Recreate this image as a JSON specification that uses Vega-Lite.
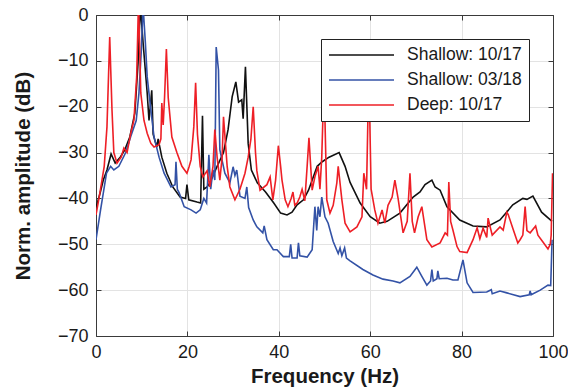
{
  "$schema": "https://vega.github.io/schema/vega-lite/v6.json",
  "width": 457,
  "height": 321,
  "autosize": "none",
  "padding": {"left": 96, "top": 15, "right": 15, "bottom": 56},
  "config": {
    "view": {"stroke": null},
    "font": "Liberation Sans",
    "axis": {
      "domainColor": "#3a3a3a",
      "tickColor": "#3a3a3a",
      "domainWidth": 1,
      "tickWidth": 1,
      "labelFont": "Liberation Sans",
      "labelFontSize": 18,
      "labelColor": "#1a1a1a",
      "labelFlush": false,
      "labelOverlap": false,
      "titleFont": "Liberation Sans",
      "titleFontSize": 20.5,
      "titleFontWeight": "bold",
      "titleColor": "#1a1a1a",
      "gridColor": "#e3e3e3",
      "gridWidth": 1
    }
  },
  "data": {"values": [
    {"s":"Shallow: 10/17","f":0,"v":-42},{"s":"Shallow: 10/17","f":0.9,"v":-38.8},{"s":"Shallow: 10/17","f":1.6,"v":-36},{"s":"Shallow: 10/17","f":2.4,"v":-33.8},{"s":"Shallow: 10/17","f":3.3,"v":-30.3},{"s":"Shallow: 10/17","f":4.2,"v":-32.3},{"s":"Shallow: 10/17","f":5.3,"v":-31},{"s":"Shallow: 10/17","f":6.3,"v":-29.4},{"s":"Shallow: 10/17","f":7.4,"v":-26.6},{"s":"Shallow: 10/17","f":8.5,"v":-21.4},{"s":"Shallow: 10/17","f":9.2,"v":-10.5},{"s":"Shallow: 10/17","f":9.7,"v":2},{"s":"Shallow: 10/17","f":10.3,"v":-6},{"s":"Shallow: 10/17","f":11.2,"v":-17},{"s":"Shallow: 10/17","f":11.6,"v":-23},{"s":"Shallow: 10/17","f":12.2,"v":-16.4},{"s":"Shallow: 10/17","f":12.5,"v":-26},{"s":"Shallow: 10/17","f":13.3,"v":-28.8},{"s":"Shallow: 10/17","f":13.6,"v":-27},{"s":"Shallow: 10/17","f":14.4,"v":-31},{"s":"Shallow: 10/17","f":15.5,"v":-34.5},{"s":"Shallow: 10/17","f":16.8,"v":-37.5},{"s":"Shallow: 10/17","f":18.4,"v":-39.7},{"s":"Shallow: 10/17","f":19.6,"v":-40},{"s":"Shallow: 10/17","f":19.9,"v":-37},{"s":"Shallow: 10/17","f":20.3,"v":-40.3},{"s":"Shallow: 10/17","f":22.1,"v":-40.8},{"s":"Shallow: 10/17","f":22.9,"v":-41},{"s":"Shallow: 10/17","f":23.3,"v":-22},{"s":"Shallow: 10/17","f":23.6,"v":-38},{"s":"Shallow: 10/17","f":24.3,"v":-37.5},{"s":"Shallow: 10/17","f":24.9,"v":-36.6},{"s":"Shallow: 10/17","f":26.5,"v":-33},{"s":"Shallow: 10/17","f":27.9,"v":-30},{"s":"Shallow: 10/17","f":28.9,"v":-25},{"s":"Shallow: 10/17","f":29.8,"v":-17.8},{"s":"Shallow: 10/17","f":30.6,"v":-14.6},{"s":"Shallow: 10/17","f":31.2,"v":-19},{"s":"Shallow: 10/17","f":31.9,"v":-18.5},{"s":"Shallow: 10/17","f":32.2,"v":-22.6},{"s":"Shallow: 10/17","f":32.7,"v":-11.3},{"s":"Shallow: 10/17","f":33.3,"v":-28},{"s":"Shallow: 10/17","f":34,"v":-33.8},{"s":"Shallow: 10/17","f":35.3,"v":-36.6},{"s":"Shallow: 10/17","f":37.1,"v":-38.6},{"s":"Shallow: 10/17","f":38.9,"v":-41},{"s":"Shallow: 10/17","f":40.4,"v":-43.2},{"s":"Shallow: 10/17","f":41.8,"v":-43.6},{"s":"Shallow: 10/17","f":42.9,"v":-43},{"s":"Shallow: 10/17","f":44,"v":-41.4},{"s":"Shallow: 10/17","f":45.4,"v":-40.3},{"s":"Shallow: 10/17","f":46.5,"v":-38.2},{"s":"Shallow: 10/17","f":48.4,"v":-33},{"s":"Shallow: 10/17","f":49.5,"v":-32},{"s":"Shallow: 10/17","f":51,"v":-31},{"s":"Shallow: 10/17","f":53.2,"v":-30},{"s":"Shallow: 10/17","f":54.5,"v":-33},{"s":"Shallow: 10/17","f":55.6,"v":-36.5},{"s":"Shallow: 10/17","f":57.8,"v":-41},{"s":"Shallow: 10/17","f":60,"v":-44},{"s":"Shallow: 10/17","f":62.1,"v":-45.4},{"s":"Shallow: 10/17","f":63.7,"v":-45},{"s":"Shallow: 10/17","f":66.5,"v":-43.2},{"s":"Shallow: 10/17","f":69.4,"v":-39.7},{"s":"Shallow: 10/17","f":70.9,"v":-38.6},{"s":"Shallow: 10/17","f":72,"v":-37},{"s":"Shallow: 10/17","f":73.5,"v":-36},{"s":"Shallow: 10/17","f":74.2,"v":-37.5},{"s":"Shallow: 10/17","f":75.3,"v":-38.2},{"s":"Shallow: 10/17","f":76.8,"v":-41.8},{"s":"Shallow: 10/17","f":79.6,"v":-44.7},{"s":"Shallow: 10/17","f":82.5,"v":-46},{"s":"Shallow: 10/17","f":85.5,"v":-46.2},{"s":"Shallow: 10/17","f":88.4,"v":-44.7},{"s":"Shallow: 10/17","f":91.2,"v":-41.4},{"s":"Shallow: 10/17","f":93.4,"v":-40},{"s":"Shallow: 10/17","f":94.3,"v":-40.2},{"s":"Shallow: 10/17","f":95.6,"v":-39.5},{"s":"Shallow: 10/17","f":97.5,"v":-43},{"s":"Shallow: 10/17","f":99.8,"v":-45},

    {"s":"Shallow: 03/18","f":0,"v":-49},{"s":"Shallow: 03/18","f":1,"v":-42.5},{"s":"Shallow: 03/18","f":2.3,"v":-34.5},{"s":"Shallow: 03/18","f":3.2,"v":-33},{"s":"Shallow: 03/18","f":3.9,"v":-33.8},{"s":"Shallow: 03/18","f":5,"v":-33},{"s":"Shallow: 03/18","f":6.5,"v":-30},{"s":"Shallow: 03/18","f":7.6,"v":-26.5},{"s":"Shallow: 03/18","f":8.8,"v":-23},{"s":"Shallow: 03/18","f":9.4,"v":-17},{"s":"Shallow: 03/18","f":9.9,"v":-8},{"s":"Shallow: 03/18","f":10.3,"v":2},{"s":"Shallow: 03/18","f":10.8,"v":-6},{"s":"Shallow: 03/18","f":11.2,"v":-13.5},{"s":"Shallow: 03/18","f":12,"v":-20.7},{"s":"Shallow: 03/18","f":12.7,"v":-26.6},{"s":"Shallow: 03/18","f":13.8,"v":-31},{"s":"Shallow: 03/18","f":14.9,"v":-34.5},{"s":"Shallow: 03/18","f":16.4,"v":-37.5},{"s":"Shallow: 03/18","f":17.3,"v":-37},{"s":"Shallow: 03/18","f":17.5,"v":-32},{"s":"Shallow: 03/18","f":17.8,"v":-38},{"s":"Shallow: 03/18","f":18.2,"v":-38.8},{"s":"Shallow: 03/18","f":19.3,"v":-41.8},{"s":"Shallow: 03/18","f":20.8,"v":-42.5},{"s":"Shallow: 03/18","f":21.9,"v":-43.2},{"s":"Shallow: 03/18","f":22.8,"v":-42.5},{"s":"Shallow: 03/18","f":23.6,"v":-40},{"s":"Shallow: 03/18","f":24.2,"v":-41},{"s":"Shallow: 03/18","f":24.7,"v":-30.5},{"s":"Shallow: 03/18","f":25.1,"v":-38},{"s":"Shallow: 03/18","f":25.6,"v":-33.8},{"s":"Shallow: 03/18","f":26,"v":-36},{"s":"Shallow: 03/18","f":26.3,"v":-7},{"s":"Shallow: 03/18","f":26.8,"v":-12},{"s":"Shallow: 03/18","f":27.1,"v":-29.4},{"s":"Shallow: 03/18","f":28.2,"v":-34.5},{"s":"Shallow: 03/18","f":29.3,"v":-36.6},{"s":"Shallow: 03/18","f":30,"v":-33.1},{"s":"Shallow: 03/18","f":30.4,"v":-35},{"s":"Shallow: 03/18","f":30.8,"v":-33.8},{"s":"Shallow: 03/18","f":31.5,"v":-39.5},{"s":"Shallow: 03/18","f":32.6,"v":-40},{"s":"Shallow: 03/18","f":33,"v":-37.5},{"s":"Shallow: 03/18","f":33.4,"v":-42},{"s":"Shallow: 03/18","f":34.4,"v":-44.7},{"s":"Shallow: 03/18","f":35.2,"v":-46.2},{"s":"Shallow: 03/18","f":36.5,"v":-47.5},{"s":"Shallow: 03/18","f":36.8,"v":-46},{"s":"Shallow: 03/18","f":37.4,"v":-49},{"s":"Shallow: 03/18","f":38.8,"v":-51.2},{"s":"Shallow: 03/18","f":39.6,"v":-51.2},{"s":"Shallow: 03/18","f":41,"v":-52.7},{"s":"Shallow: 03/18","f":42.3,"v":-52.7},{"s":"Shallow: 03/18","f":42.6,"v":-50},{"s":"Shallow: 03/18","f":42.9,"v":-53},{"s":"Shallow: 03/18","f":44,"v":-53},{"s":"Shallow: 03/18","f":44.3,"v":-49.7},{"s":"Shallow: 03/18","f":44.6,"v":-52.5},{"s":"Shallow: 03/18","f":46.2,"v":-52.8},{"s":"Shallow: 03/18","f":47.3,"v":-51.2},{"s":"Shallow: 03/18","f":47.9,"v":-41.8},{"s":"Shallow: 03/18","f":48.3,"v":-47},{"s":"Shallow: 03/18","f":48.6,"v":-41.8},{"s":"Shallow: 03/18","f":49,"v":-44},{"s":"Shallow: 03/18","f":49.4,"v":-39.7},{"s":"Shallow: 03/18","f":50.1,"v":-44},{"s":"Shallow: 03/18","f":50.8,"v":-45.4},{"s":"Shallow: 03/18","f":51.9,"v":-49.4},{"s":"Shallow: 03/18","f":53,"v":-52},{"s":"Shallow: 03/18","f":53.4,"v":-50.8},{"s":"Shallow: 03/18","f":53.8,"v":-52.5},{"s":"Shallow: 03/18","f":54.4,"v":-50.8},{"s":"Shallow: 03/18","f":54.8,"v":-53},{"s":"Shallow: 03/18","f":55.6,"v":-53.6},{"s":"Shallow: 03/18","f":58.4,"v":-55.5},{"s":"Shallow: 03/18","f":60.6,"v":-56.7},{"s":"Shallow: 03/18","f":62.8,"v":-57.6},{"s":"Shallow: 03/18","f":65,"v":-58},{"s":"Shallow: 03/18","f":66.5,"v":-58.4},{"s":"Shallow: 03/18","f":68.7,"v":-57},{"s":"Shallow: 03/18","f":70.2,"v":-55},{"s":"Shallow: 03/18","f":71.3,"v":-57},{"s":"Shallow: 03/18","f":72.4,"v":-58.9},{"s":"Shallow: 03/18","f":73.2,"v":-58},{"s":"Shallow: 03/18","f":73.5,"v":-55.5},{"s":"Shallow: 03/18","f":73.8,"v":-58},{"s":"Shallow: 03/18","f":74.6,"v":-57.5},{"s":"Shallow: 03/18","f":74.8,"v":-55.8},{"s":"Shallow: 03/18","f":75.1,"v":-57.5},{"s":"Shallow: 03/18","f":76.8,"v":-57.4},{"s":"Shallow: 03/18","f":78.1,"v":-57.8},{"s":"Shallow: 03/18","f":79.2,"v":-57.8},{"s":"Shallow: 03/18","f":80.3,"v":-53.4},{"s":"Shallow: 03/18","f":81.2,"v":-58.4},{"s":"Shallow: 03/18","f":82.5,"v":-60.5},{"s":"Shallow: 03/18","f":85.5,"v":-60.4},{"s":"Shallow: 03/18","f":86.5,"v":-59.9},{"s":"Shallow: 03/18","f":86.7,"v":-60.8},{"s":"Shallow: 03/18","f":88.4,"v":-60.2},{"s":"Shallow: 03/18","f":89.9,"v":-60.6},{"s":"Shallow: 03/18","f":92.8,"v":-61.4},{"s":"Shallow: 03/18","f":94.8,"v":-61},{"s":"Shallow: 03/18","f":95,"v":-60.2},{"s":"Shallow: 03/18","f":95.2,"v":-61},{"s":"Shallow: 03/18","f":97.2,"v":-60},{"s":"Shallow: 03/18","f":98.9,"v":-58.9},{"s":"Shallow: 03/18","f":99.5,"v":-59},{"s":"Shallow: 03/18","f":99.8,"v":-49},

    {"s":"Deep: 10/17","f":0,"v":-43.6},{"s":"Deep: 10/17","f":0.7,"v":-39.7},{"s":"Deep: 10/17","f":1.8,"v":-33},{"s":"Deep: 10/17","f":2.4,"v":-24.4},{"s":"Deep: 10/17","f":3,"v":-4.8},{"s":"Deep: 10/17","f":3.5,"v":-20.7},{"s":"Deep: 10/17","f":3.9,"v":-30},{"s":"Deep: 10/17","f":4.6,"v":-32.3},{"s":"Deep: 10/17","f":5.5,"v":-31},{"s":"Deep: 10/17","f":6.1,"v":-29},{"s":"Deep: 10/17","f":6.8,"v":-30},{"s":"Deep: 10/17","f":7.6,"v":-25.8},{"s":"Deep: 10/17","f":8.3,"v":-22.9},{"s":"Deep: 10/17","f":8.9,"v":-13.5},{"s":"Deep: 10/17","f":9.3,"v":3},{"s":"Deep: 10/17","f":9.8,"v":-17},{"s":"Deep: 10/17","f":10.5,"v":-23},{"s":"Deep: 10/17","f":11.2,"v":-25.8},{"s":"Deep: 10/17","f":12,"v":-28},{"s":"Deep: 10/17","f":12.7,"v":-28.8},{"s":"Deep: 10/17","f":13.8,"v":-28.3},{"s":"Deep: 10/17","f":14.2,"v":-27},{"s":"Deep: 10/17","f":14.4,"v":-19.2},{"s":"Deep: 10/17","f":14.7,"v":-24},{"s":"Deep: 10/17","f":15,"v":-18},{"s":"Deep: 10/17","f":15.4,"v":-7.4},{"s":"Deep: 10/17","f":15.8,"v":-18},{"s":"Deep: 10/17","f":16.6,"v":-26.6},{"s":"Deep: 10/17","f":17.7,"v":-30},{"s":"Deep: 10/17","f":18.8,"v":-33},{"s":"Deep: 10/17","f":19.9,"v":-34.5},{"s":"Deep: 10/17","f":20.4,"v":-33},{"s":"Deep: 10/17","f":20.8,"v":-31.6},{"s":"Deep: 10/17","f":21.4,"v":-24.4},{"s":"Deep: 10/17","f":21.8,"v":-14.8},{"s":"Deep: 10/17","f":22.2,"v":-26},{"s":"Deep: 10/17","f":22.8,"v":-33},{"s":"Deep: 10/17","f":23.4,"v":-35.3},{"s":"Deep: 10/17","f":24.3,"v":-34},{"s":"Deep: 10/17","f":24.9,"v":-37.5},{"s":"Deep: 10/17","f":25.6,"v":-33},{"s":"Deep: 10/17","f":26,"v":-25},{"s":"Deep: 10/17","f":26.5,"v":-31},{"s":"Deep: 10/17","f":27.1,"v":-36},{"s":"Deep: 10/17","f":27.6,"v":-31},{"s":"Deep: 10/17","f":27.9,"v":-22.2},{"s":"Deep: 10/17","f":28.7,"v":-33},{"s":"Deep: 10/17","f":29.3,"v":-37.5},{"s":"Deep: 10/17","f":30.4,"v":-40.3},{"s":"Deep: 10/17","f":31.5,"v":-38},{"s":"Deep: 10/17","f":32.6,"v":-34.5},{"s":"Deep: 10/17","f":33.3,"v":-31},{"s":"Deep: 10/17","f":33.9,"v":-27},{"s":"Deep: 10/17","f":34.4,"v":-20},{"s":"Deep: 10/17","f":34.9,"v":-30},{"s":"Deep: 10/17","f":35.2,"v":-34},{"s":"Deep: 10/17","f":35.9,"v":-38.2},{"s":"Deep: 10/17","f":37.4,"v":-37},{"s":"Deep: 10/17","f":38.1,"v":-35.3},{"s":"Deep: 10/17","f":38.7,"v":-40.3},{"s":"Deep: 10/17","f":39.3,"v":-36},{"s":"Deep: 10/17","f":39.9,"v":-28.5},{"s":"Deep: 10/17","f":40.4,"v":-33},{"s":"Deep: 10/17","f":40.7,"v":-36},{"s":"Deep: 10/17","f":41.4,"v":-40.3},{"s":"Deep: 10/17","f":42,"v":-41.8},{"s":"Deep: 10/17","f":42.7,"v":-40},{"s":"Deep: 10/17","f":43.1,"v":-38.6},{"s":"Deep: 10/17","f":43.5,"v":-41.5},{"s":"Deep: 10/17","f":44,"v":-41},{"s":"Deep: 10/17","f":44.6,"v":-39.7},{"s":"Deep: 10/17","f":45.1,"v":-38},{"s":"Deep: 10/17","f":45.7,"v":-40.5},{"s":"Deep: 10/17","f":46.2,"v":-33},{"s":"Deep: 10/17","f":46.6,"v":-26.8},{"s":"Deep: 10/17","f":47.3,"v":-38.2},{"s":"Deep: 10/17","f":47.9,"v":-35.3},{"s":"Deep: 10/17","f":48.6,"v":-33},{"s":"Deep: 10/17","f":49,"v":-38},{"s":"Deep: 10/17","f":49.4,"v":-31},{"s":"Deep: 10/17","f":49.9,"v":-14},{"s":"Deep: 10/17","f":50.5,"v":-40.3},{"s":"Deep: 10/17","f":51.2,"v":-43.2},{"s":"Deep: 10/17","f":51.9,"v":-41.5},{"s":"Deep: 10/17","f":52.7,"v":-36.6},{"s":"Deep: 10/17","f":53,"v":-33},{"s":"Deep: 10/17","f":53.8,"v":-40.3},{"s":"Deep: 10/17","f":54.5,"v":-45.4},{"s":"Deep: 10/17","f":55.6,"v":-47.3},{"s":"Deep: 10/17","f":57.1,"v":-46.2},{"s":"Deep: 10/17","f":58.2,"v":-44},{"s":"Deep: 10/17","f":58.6,"v":-34.5},{"s":"Deep: 10/17","f":59.2,"v":-38},{"s":"Deep: 10/17","f":59.7,"v":-12},{"s":"Deep: 10/17","f":60.2,"v":-38},{"s":"Deep: 10/17","f":61,"v":-42.5},{"s":"Deep: 10/17","f":61.7,"v":-45.4},{"s":"Deep: 10/17","f":62.6,"v":-42.5},{"s":"Deep: 10/17","f":63.2,"v":-45.4},{"s":"Deep: 10/17","f":63.9,"v":-41.5},{"s":"Deep: 10/17","f":64.8,"v":-39.7},{"s":"Deep: 10/17","f":65.4,"v":-36},{"s":"Deep: 10/17","f":66.1,"v":-40},{"s":"Deep: 10/17","f":67.2,"v":-47.5},{"s":"Deep: 10/17","f":68.1,"v":-45},{"s":"Deep: 10/17","f":68.7,"v":-34.5},{"s":"Deep: 10/17","f":69.2,"v":-45},{"s":"Deep: 10/17","f":69.7,"v":-47.5},{"s":"Deep: 10/17","f":70.5,"v":-44},{"s":"Deep: 10/17","f":71.3,"v":-41.8},{"s":"Deep: 10/17","f":72.4,"v":-49},{"s":"Deep: 10/17","f":73.5,"v":-50.6},{"s":"Deep: 10/17","f":75.3,"v":-49.7},{"s":"Deep: 10/17","f":76.4,"v":-47.5},{"s":"Deep: 10/17","f":76.9,"v":-48},{"s":"Deep: 10/17","f":77.2,"v":-36.4},{"s":"Deep: 10/17","f":77.6,"v":-45},{"s":"Deep: 10/17","f":78.1,"v":-46.9},{"s":"Deep: 10/17","f":79,"v":-50.5},{"s":"Deep: 10/17","f":79.6,"v":-51.6},{"s":"Deep: 10/17","f":81.2,"v":-51.8},{"s":"Deep: 10/17","f":82.5,"v":-49},{"s":"Deep: 10/17","f":83.4,"v":-46.4},{"s":"Deep: 10/17","f":84,"v":-48.8},{"s":"Deep: 10/17","f":84.7,"v":-46.5},{"s":"Deep: 10/17","f":85.5,"v":-48.5},{"s":"Deep: 10/17","f":85.8,"v":-44.3},{"s":"Deep: 10/17","f":86.2,"v":-46},{"s":"Deep: 10/17","f":86.7,"v":-48},{"s":"Deep: 10/17","f":88.4,"v":-46.2},{"s":"Deep: 10/17","f":89.1,"v":-46.9},{"s":"Deep: 10/17","f":89.9,"v":-43},{"s":"Deep: 10/17","f":90.2,"v":-43.5},{"s":"Deep: 10/17","f":91.2,"v":-46.5},{"s":"Deep: 10/17","f":92.3,"v":-49.7},{"s":"Deep: 10/17","f":92.8,"v":-49},{"s":"Deep: 10/17","f":93.4,"v":-48},{"s":"Deep: 10/17","f":93.9,"v":-41.8},{"s":"Deep: 10/17","f":94.3,"v":-47},{"s":"Deep: 10/17","f":95,"v":-47.5},{"s":"Deep: 10/17","f":96.2,"v":-46},{"s":"Deep: 10/17","f":96.7,"v":-48},{"s":"Deep: 10/17","f":97.8,"v":-49.5},{"s":"Deep: 10/17","f":98.9,"v":-51},{"s":"Deep: 10/17","f":99.4,"v":-50},{"s":"Deep: 10/17","f":99.6,"v":-48},{"s":"Deep: 10/17","f":99.9,"v":-34.5}
  ]},
  "layer": [
    {
      "mark": {"type": "line", "clip": true, "strokeWidth": 1.6, "interpolate": "linear"},
      "encoding": {
        "x": {"field": "f", "type": "quantitative",
          "scale": {"domain": [0, 100], "nice": false},
          "axis": {"orient": "bottom", "values": [0, 20, 40, 60, 80, 100], "title": "Frequency (Hz)", "grid": true, "tickSize": -5, "labelPadding": 12, "titlePadding": 5}},
        "y": {"field": "v", "type": "quantitative",
          "scale": {"domain": [-70, 0], "nice": false},
          "axis": {"orient": "left", "values": [-70, -60, -50, -40, -30, -20, -10, 0], "title": "Norm. amplitude (dB)", "grid": true, "tickSize": -5, "labelPadding": 13, "titlePadding": 24}},
        "color": {"field": "s", "type": "nominal", "sort": null,
          "scale": {"domain": ["Shallow: 10/17", "Shallow: 03/18", "Deep: 10/17"], "range": ["#111111", "#3352a6", "#ee1f26"]},
          "legend": {"title": null, "orient": "none", "legendX": 225, "legendY": 24, "fillColor": "white", "strokeColor": "#222222", "padding": 7, "symbolType": "stroke", "symbolSize": 4225, "symbolStrokeWidth": 1.6, "clipHeight": 18, "labelFont": "Liberation Sans", "labelFontSize": 17.5, "labelColor": "#1a1a1a", "labelOffset": 12, "rowPadding": 7, "labelExpr": "datum.label + '      '"}}
      }
    },
    {
      "mark": {"type": "point", "opacity": 0},
      "encoding": {
        "x": {"field": "f", "type": "quantitative",
          "axis": {"orient": "top", "values": [0, 20, 40, 60, 80, 100], "labels": false, "title": null, "grid": false, "tickSize": -5}},
        "y": {"field": "v", "type": "quantitative",
          "axis": {"orient": "right", "values": [-70, -60, -50, -40, -30, -20, -10, 0], "labels": false, "title": null, "grid": false, "tickSize": -5}}
      }
    }
  ],
  "resolve": {"axis": {"x": "independent", "y": "independent"}}
}
